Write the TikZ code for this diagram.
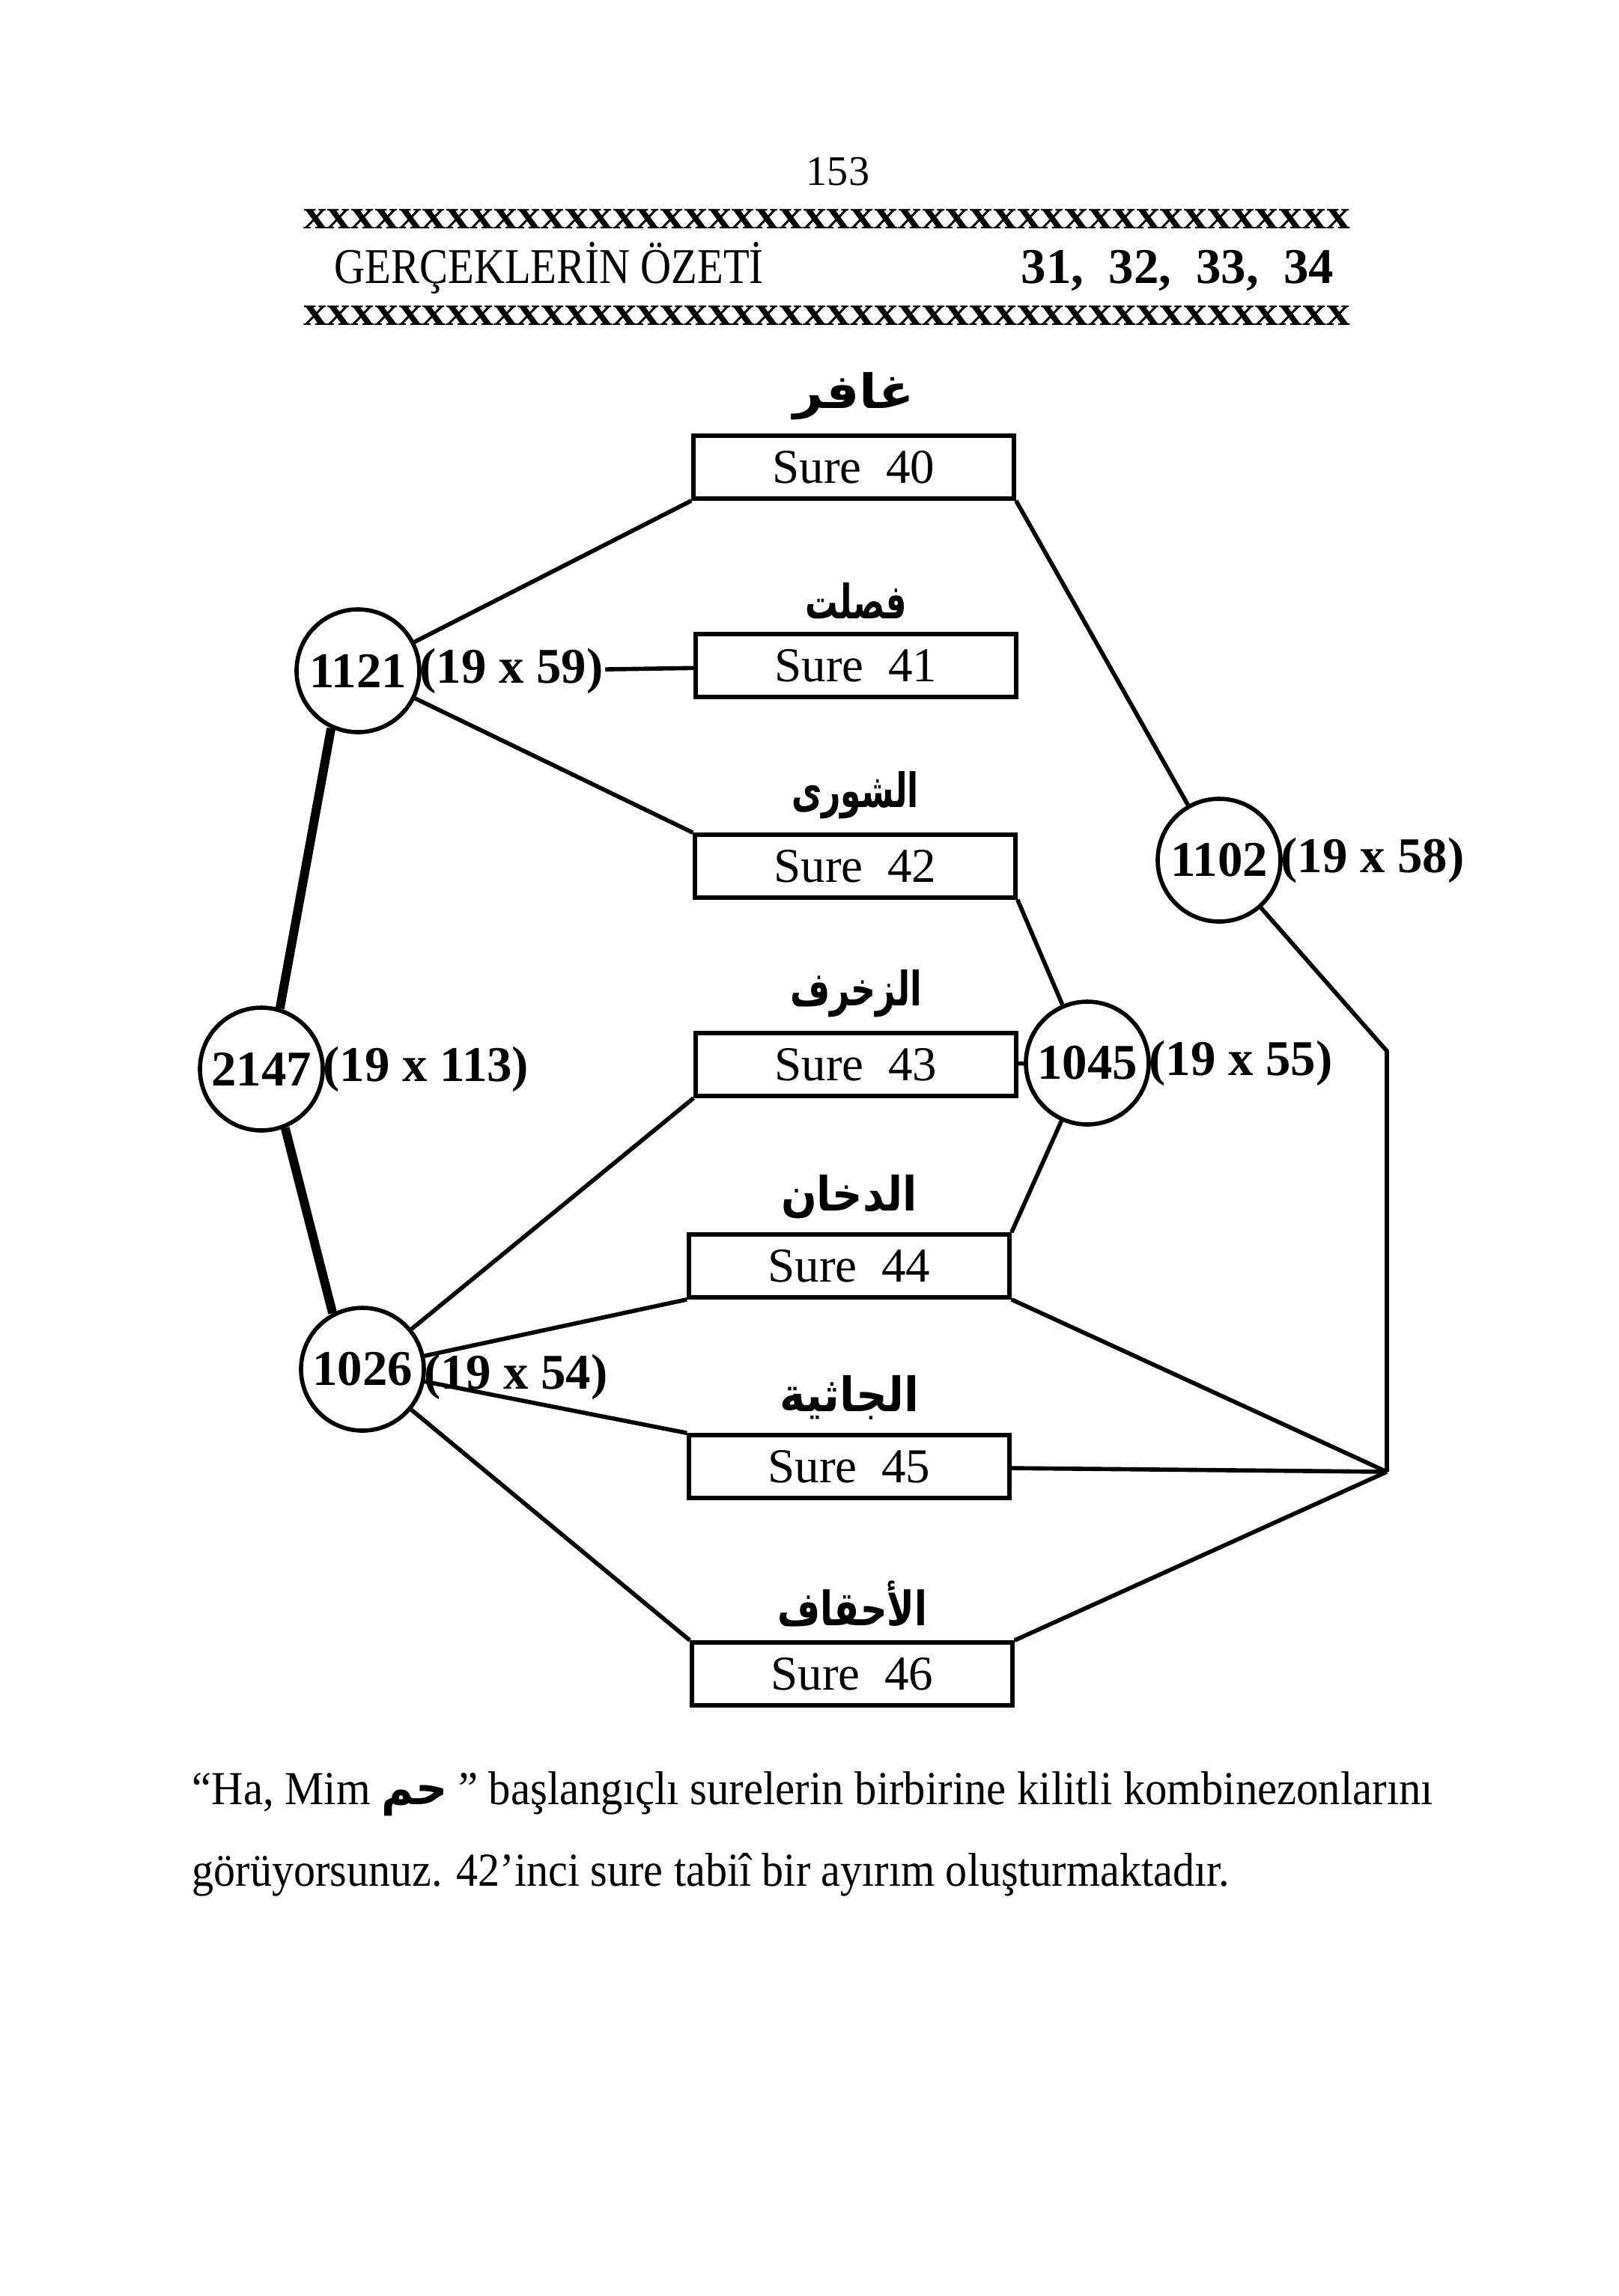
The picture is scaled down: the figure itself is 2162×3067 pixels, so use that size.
\documentclass[tikz,border=0pt]{standalone}
\usepackage{fontspec}
\usepackage{graphicx}
\setmainfont{Liberation Serif}
\newfontfamily\arabicfont[Script=Arabic]{DejaVu Sans}
\TeXXeTstate=1
\usetikzlibrary{positioning}

\newcommand{\arname}[2]{\resizebox{#1}{\height}{\beginR #2\endR}}

\begin{document}
\begin{tikzpicture}[x=0.1mm, y=-0.1mm, line width=1.6pt,
    surebox/.style={draw, minimum width=42.8mm, minimum height=8.4mm, inner sep=0pt, font=\fontsize{18.5}{20}\selectfont},
    sumcircle/.style={draw, circle, minimum size=16.4mm, inner sep=0pt, font=\bfseries\fontsize{19}{20}\selectfont},
    factor/.style={inner sep=0pt, font=\bfseries\fontsize{19}{20}\selectfont},
    arabic/.style={inner sep=0pt, font=\arabicfont\bfseries\fontsize{18}{20}\selectfont},
    xrow/.style={inner sep=0pt, font=\bfseries\fontsize{16}{16}\selectfont},
    thickline/.style={line width=3.4pt}]
    \fill[white] (0,0) rectangle (2162,3067);
    \useasboundingbox (0,0) rectangle (2162,3067);

    % Page head
    \node[inner sep=0pt, font=\fontsize{16}{18}\selectfont] (page) at (1119,229) {153};
    \node[xrow] (xtop) at (1104,293) {\resizebox{139.8mm}{\height}{xxxxxxxxxxxxxxxxxxxxxxxxxxxxxxxxxxxxxxxxxxxx}};
    \node[inner sep=0pt, anchor=west, font=\fontsize{19}{21}\selectfont] (title) at (444,358) {\resizebox{57.3mm}{\height}{GERÇEKLERİN ÖZETİ}};
    \node[inner sep=0pt, anchor=east, font=\bfseries\fontsize{19}{21}\selectfont] (nums) at (1784,362) {31,\ \ 32,\ \ 33,\ \ 34};
    \node[xrow] (xbot) at (1104,422) {\resizebox{139.8mm}{\height}{xxxxxxxxxxxxxxxxxxxxxxxxxxxxxxxxxxxxxxxxxxxx}};

    % Sure boxes
    \node[surebox] (s40) at (1140,624) {Sure\ \ 40\hspace{6mm}};
    \node[surebox] (s41) at (1143,889) {Sure\ \ 41\hspace{6mm}};
    \node[surebox] (s42) at (1142,1157) {Sure\ \ 42\hspace{5mm}};
    \node[surebox] (s43) at (1143,1422) {Sure\ \ 43\hspace{5mm}};
    \node[surebox] (s44) at (1134,1691) {Sure\ \ 44\hspace{3mm}};
    \node[surebox] (s45) at (1134,1959) {Sure\ \ 45\hspace{3mm}};
    \node[surebox] (s46) at (1138,2236) {Sure\ \ 46\hspace{2mm}};

    % Arabic names over the boxes
    \node[arabic, above=1.5mm of s40] (a40) {\arname{16.2mm}{غافر}};
    \node[arabic, above=1.5mm of s41] (a41) {\arname{13.5mm}{فصلت}};
    \node[arabic, above=1.5mm of s42] (a42) {\arname{17mm}{الشورى}};
    \node[arabic, above=1.5mm of s43] (a43) {\arname{17.6mm}{الزخرف}};
    \node[arabic, above=1.5mm of s44] (a44) {\arname{18.2mm}{الدخان}};
    \node[arabic, above=1.5mm of s45] (a45) {\arname{18.6mm}{الجاثية}};
    \node[arabic, above=1.5mm of s46] (a46) {\arname{20mm}{الأحقاف}};

    % Sums and their factors
    \node[sumcircle] (c1121) at (478,896) {1121};
    \node[factor, right=-0.5mm of c1121] (f1121) {(19 x 59)};
    \node[sumcircle] (c2147) at (349,1428) {2147};
    \node[factor, right=-0.5mm of c2147] (f2147) {(19 x 113)};
    \node[sumcircle] (c1026) at (484,1829) {1026};
    \node[factor, right=-0.5mm of c1026, yshift=-1mm] (f1026) {(19 x 54)};
    \node[sumcircle] (c1045) at (1452,1420) {1045};
    \node[factor, right=-0.5mm of c1045] (f1045) {(19 x 55)};
    \node[sumcircle] (c1102) at (1628,1149) {1102};
    \node[factor, right=-0.5mm of c1102] (f1102) {(19 x 58)};

    \coordinate (bend) at (1852,1404);
    \coordinate (join) at (1852,1966);

    % Edges
    \draw (c1121) -- (s40.south west);
    \draw (f1121) -- (s41);
    \draw (c1121) -- (s42.north west);
    \draw[thickline] (c1121.245) -- (c2147.73);
    \draw[thickline] (c2147.292) -- (c1026.118);
    \draw (s40.south east) -- (c1102);
    \draw (c1102) -- (bend) -- (join);
    \draw (s42.south east) -- (c1045);
    \draw (s43) -- (c1045);
    \draw (c1045) -- (s44.north east);
    \draw (c1026) -- (s43.south west);
    \draw (c1026) -- (s44.south west);
    \draw (c1026) -- (s45.north west);
    \draw (c1026) -- (s46.north west);
    \draw (s44.south east) -- (join);
    \draw (s45) -- (join);
    \draw (s46.north east) -- (join);

    % Caption under the figure
    \node[inner sep=0pt, anchor=base west, font=\fontsize{18}{20}\selectfont] (line1) at (254,2410) {\resizebox{165.7mm}{\height}{“Ha, Mim {\arabicfont\bfseries\beginR حم\endR} ” başlangıçlı surelerin birbirine kilitli kombinezonlarını}};
    \node[inner sep=0pt, anchor=base west, font=\fontsize{18}{20}\selectfont] (line2) at (254,2519) {\resizebox{138.5mm}{\height}{görüyorsunuz. 42’inci sure tabiî bir ayırım oluşturmaktadır.}};
\end{tikzpicture}
\end{document}
